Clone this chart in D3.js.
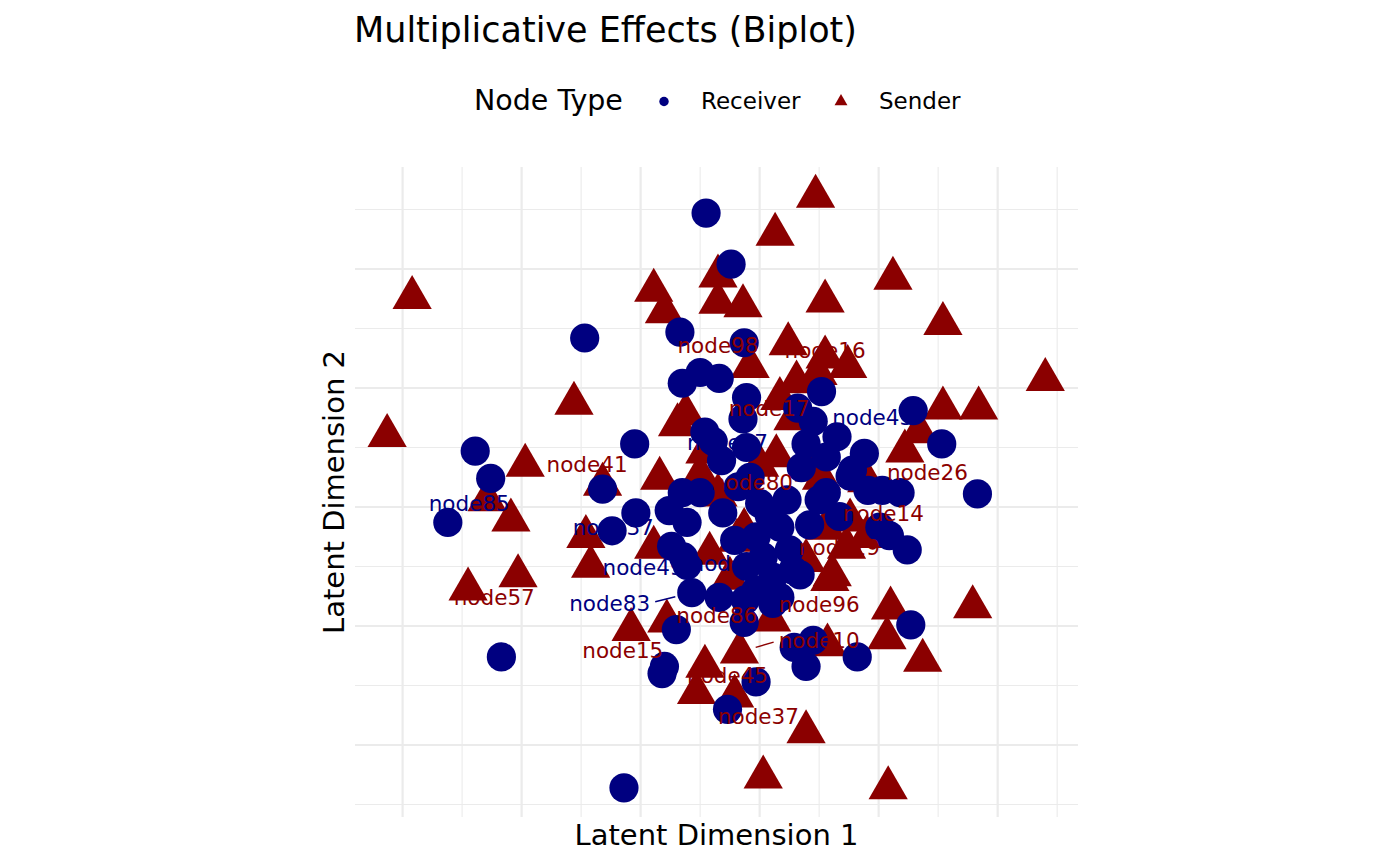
<!DOCTYPE html>
<html>
<head>
<meta charset="utf-8">
<script src="https://cdn.jsdelivr.net/npm/d3@7"></script>
<style>
    body { margin: 0; background: #ffffff; }
    text { font-family: "DejaVu Sans", sans-serif; }
</style>
</head>
<body>
<script>
// latent positions (one grid step = 1 unit)
const receiverX = [-0.45, -0.24, -1.47, -0.67, -0.13, -0.50, -0.34, -0.65, -0.11, 0.52,
    -0.14, 0.32, 0.45, 0.65, 0.39, -0.46, -0.39, -0.11, -0.32, 1.29,
    1.53, -1.05, -2.39, -2.26, -1.32, 0.88, 0.76, 0.91, 1.03, 1.18,
    1.83, -1.04, -2.62, -1.24, -0.65, -0.50, -0.76, -0.61, -0.31, -0.08,
    -0.18, 0.00, 0.23, 0.56, 0.35, 1.01, 1.09, 1.24, -0.74, -0.64,
    -0.61, -0.57, -0.34, -0.12, -0.70, -0.13, 1.27, -2.17, -0.80, -0.82,
    -0.03, -0.27, 0.29, 0.45, 0.39, 0.82, -1.14, 0.34, 0.78, 0.50,
    0.67, -0.03, 0.17, 0.25, 0.03, -0.11, 0.11, 0.28, -0.03, 0.17,
    0.11, 0.56, -0.21, 0.42, 0.08];
const receiverY = [2.47, 2.04, 1.42, 1.47, 1.38, 1.13, 1.08, 1.04, 0.92, 0.97,
    0.74, 0.83, 0.72, 0.59, 0.53, 0.63, 0.55, 0.50, 0.39, 0.81,
    0.53, 0.53, 0.47, 0.24, 0.15, 0.45, 0.26, 0.14, 0.14, 0.12,
    0.11, -0.05, -0.13, -0.20, 0.12, 0.12, -0.03, -0.13, -0.05, 0.25,
    0.17, 0.03, 0.06, 0.12, 0.33, -0.17, -0.24, -0.36, -0.33, -0.42,
    -0.49, -0.72, -0.76, -0.78, -1.03, -0.97, -0.99, -1.26, -1.34, -1.40,
    -1.47, -1.70, -1.18, -1.12, -1.34, -1.26, -2.36, -0.57, 0.31, 0.06,
    -0.08, -0.25, -0.17, -0.36, -0.42, -0.50, -0.59, -0.53, -0.70, -0.76,
    -0.81, 0.42, -0.28, -0.15, -0.07];

const senderX = [0.47, 0.13, -2.92, -0.89, -0.80, -0.35, -0.35, -0.14, 0.55, 1.12,
    1.54, 0.24, -0.08, 0.55, 0.74, 0.31, 2.40, -1.56, -3.13, -1.97,
    -2.29, -2.09, -1.32, -0.84, -1.46, -1.42, -2.03, -2.45, -0.62, -0.69,
    1.54, 1.84, 1.34, 1.22, 0.90, 0.76, 0.73, 0.90, 0.61, -0.89,
    -0.42, -0.78, -1.08, -0.17, -0.46, -0.53, -0.21, 0.39, 0.03, 1.08,
    1.10, 1.07, 1.37, 1.79, 0.57, 0.10, 0.59, 0.49, 0.17, 0.28,
    0.14, 0.52, -0.50, 0.46, -0.25, -0.19, 0.56, -0.46, 0.00, -0.13,
    0.39, -0.35];
const senderY = [2.61, 2.29, 1.76, 1.82, 1.64, 1.94, 1.72, 1.69, 1.73, 1.92,
    1.54, 1.37, 1.18, 1.26, 1.18, 1.05, 1.07, 0.87, 0.60, 0.35,
    0.06, -0.11, 0.19, 0.24, -0.25, -0.50, -0.58, -0.69, 0.78, 0.69,
    0.83, 0.83, 0.63, 0.47, 0.22, -0.11, -0.34, -0.25, -0.57, -0.34,
    -0.39, -0.96, -1.03, -1.22, -1.34, -1.56, -1.59, -1.89, -2.27, -2.36,
    -0.85, -1.10, -1.29, -0.84, -1.16, -0.95, -0.61, 1.12, 0.91, 0.74,
    0.43, 0.24, 0.27, 0.31, -0.60, -0.28, -0.18, 0.46, 0.35, -0.19,
    -0.45, 0.10];

// repelled node labels
const labelNames = ['node98', 'node16', 'node17', 'node43', 'node27', 'node80', 'node41', 'node26',
    'node85', 'node37', 'node14', 'node19', 'node49', 'node62', 'node57', 'node83',
    'node86', 'node96', 'node10', 'node15', 'node45', 'node37'];
const labelTypes = ['Sender', 'Sender', 'Sender', 'Receiver', 'Receiver', 'Sender', 'Sender', 'Sender',
    'Receiver', 'Receiver', 'Sender', 'Sender', 'Receiver', 'Receiver', 'Sender', 'Receiver',
    'Sender', 'Sender', 'Sender', 'Sender', 'Sender', 'Sender'];
const labelX = [-0.35, 0.55, 0.08, 0.95, -0.27, -0.06, -1.45, 1.41,
    -2.44, -1.23, 1.04, 0.67, -0.98, -0.24, -2.23, -1.26,
    -0.36, 0.50, 0.50, -1.15, -0.27, -0.01];
const labelY = [1.36, 1.32, 0.83, 0.75, 0.54, 0.21, 0.36, 0.29,
    0.03, -0.17, -0.05, -0.34, -0.51, -0.47, -0.76, -0.81,
    -0.91, -0.82, -1.12, -1.20, -1.41, -1.76];
// labels that got a leader segment, and the point it points at
const leaderLabels = ['node83', 'node10'];
const leaderTargetX = [-0.57, -0.17];
const leaderTargetY = [-0.72, -1.22];

const nodeTypes = ['Receiver', 'Sender'];
const xBreaks = [-3, -2, -1, 0, 1, 2];
const yBreaks = [-2, -1, 0, 1, 2];
const xMinor = [-2.5, -1.5, -0.5, 0.5, 1.5, 2.5];
const yMinor = [-2.5, -1.5, -0.5, 0.5, 1.5, 2.5];

drawBiplot();

function drawBiplot()
{
    const width = 1400;
    const height = 866;

    const panelLeft = 355;
    const panelRight = 1078;
    const panelTop = 167;
    const panelBottom = 817;

    const colors = {Receiver: '#000080', Sender: '#8b0000'};

    const svg = d3.select('body')
        .append('svg')
        .attr('width', width)
        .attr('height', height);

    // coord_fixed: same pixels per unit on both axes
    const x = d3.scaleLinear().domain([-3.4, 2.675]).range([panelLeft, panelRight]);
    const y = d3.scaleLinear().domain([-2.605, 2.857]).range([panelBottom, panelTop]);

    const grid = svg.append('g').attr('class', 'grid');

    // minor grid first, then major on top
    grid.selectAll('line.v-minor')
        .data(xMinor)
        .enter()
        .append('line')
        .attr('x1', d => x(d)).attr('x2', d => x(d))
        .attr('y1', panelTop).attr('y2', panelBottom)
        .attr('stroke', '#ebebeb')
        .attr('stroke-width', 1.1);

    grid.selectAll('line.h-minor')
        .data(yMinor)
        .enter()
        .append('line')
        .attr('x1', panelLeft).attr('x2', panelRight)
        .attr('y1', d => y(d)).attr('y2', d => y(d))
        .attr('stroke', '#ebebeb')
        .attr('stroke-width', 1.1);

    grid.selectAll('line.v-major')
        .data(xBreaks)
        .enter()
        .append('line')
        .attr('x1', d => x(d)).attr('x2', d => x(d))
        .attr('y1', panelTop).attr('y2', panelBottom)
        .attr('stroke', '#ebebeb')
        .attr('stroke-width', 2.2);

    grid.selectAll('line.h-major')
        .data(yBreaks)
        .enter()
        .append('line')
        .attr('x1', panelLeft).attr('x2', panelRight)
        .attr('y1', d => y(d)).attr('y2', d => y(d))
        .attr('stroke', '#ebebeb')
        .attr('stroke-width', 2.2);

    const senders = senderX.map((v, i) => ({x: v, y: senderY[i]}));
    const receivers = receiverX.map((v, i) => ({x: v, y: receiverY[i]}));

    const triangle = d3.symbol().type(d3.symbolTriangle).size(667);
    const circle = d3.symbol().type(d3.symbolCircle).size(670);

    // senders go down first, receivers sit on top of them
    svg.append('g')
        .selectAll('path')
        .data(senders)
        .enter()
        .append('path')
        .attr('d', triangle)
        .attr('transform', d => `translate(${x(d.x)},${y(d.y)})`)
        .attr('fill', colors.Sender);

    svg.append('g')
        .selectAll('path')
        .data(receivers)
        .enter()
        .append('path')
        .attr('d', circle)
        .attr('transform', d => `translate(${x(d.x)},${y(d.y)})`)
        .attr('fill', colors.Receiver);

    // labels
    const labels = labelNames.map((name, i) => ({
        name: name, type: labelTypes[i], x: labelX[i], y: labelY[i]
    }));

    const labelGroup = svg.append('g');
    const labelText = labelGroup.selectAll('text')
        .data(labels)
        .enter()
        .append('text')
        .attr('x', d => x(d.x))
        .attr('y', d => y(d.y))
        .attr('dy', '0.36em')
        .attr('text-anchor', 'middle')
        .attr('font-size', 21.5)
        .attr('fill', d => colors[d.type])
        .text(d => d.name);

    // leader segments from the label edge toward its point
    labelText.each(function(d)
    {
        const k = leaderLabels.indexOf(d.name);
        if (k < 0) return;
        const half = this.getComputedTextLength() / 2;
        const lx = x(d.x), ly = y(d.y);
        const tx = x(leaderTargetX[k]), ty = y(leaderTargetY[k]);
        const dir = Math.sign(tx - lx);
        const sx = lx + dir * (half + 5);
        const sy = ly + (ty - ly) * 0.15;
        const len = Math.hypot(tx - sx, ty - sy);
        const stop = 17;
        labelGroup.append('line')
            .attr('x1', sx).attr('y1', sy)
            .attr('x2', tx - (tx - sx) * stop / len)
            .attr('y2', ty - (ty - sy) * stop / len)
            .attr('stroke', colors[d.type])
            .attr('stroke-width', 1.4);
    });

    // title
    svg.append('text')
        .attr('x', 354)
        .attr('y', 42)
        .attr('font-size', 35)
        .attr('fill', '#000')
        .text('Multiplicative Effects (Biplot)');

    // axis titles
    svg.append('text')
        .attr('x', (panelLeft + panelRight) / 2)
        .attr('y', 845)
        .attr('text-anchor', 'middle')
        .attr('font-size', 29)
        .attr('fill', '#000')
        .text('Latent Dimension 1');

    svg.append('text')
        .attr('transform', `translate(344,${(panelTop + panelBottom) / 2}) rotate(-90)`)
        .attr('text-anchor', 'middle')
        .attr('font-size', 29)
        .attr('fill', '#000')
        .text('Latent Dimension 2');

    // legend (top, horizontal)
    const legend = svg.append('g');
    legend.append('text')
        .attr('x', 474)
        .attr('y', 110)
        .attr('font-size', 28.5)
        .attr('fill', '#000')
        .text('Node Type');

    const keyX = [664, 841];
    const keyLabelX = [701, 879];
    const smallShape = {
        Receiver: d3.symbol().type(d3.symbolCircle).size(70),
        Sender: d3.symbol().type(d3.symbolTriangle).size(72)
    };

    nodeTypes.forEach((t, i) =>
    {
        legend.append('path')
            .attr('d', smallShape[t])
            .attr('transform', `translate(${keyX[i]},101.5)`)
            .attr('fill', colors[t]);
        legend.append('text')
            .attr('x', keyLabelX[i])
            .attr('y', 109)
            .attr('font-size', 23)
            .attr('fill', '#000')
            .text(t);
    });
}
</script>
</body>
</html>
